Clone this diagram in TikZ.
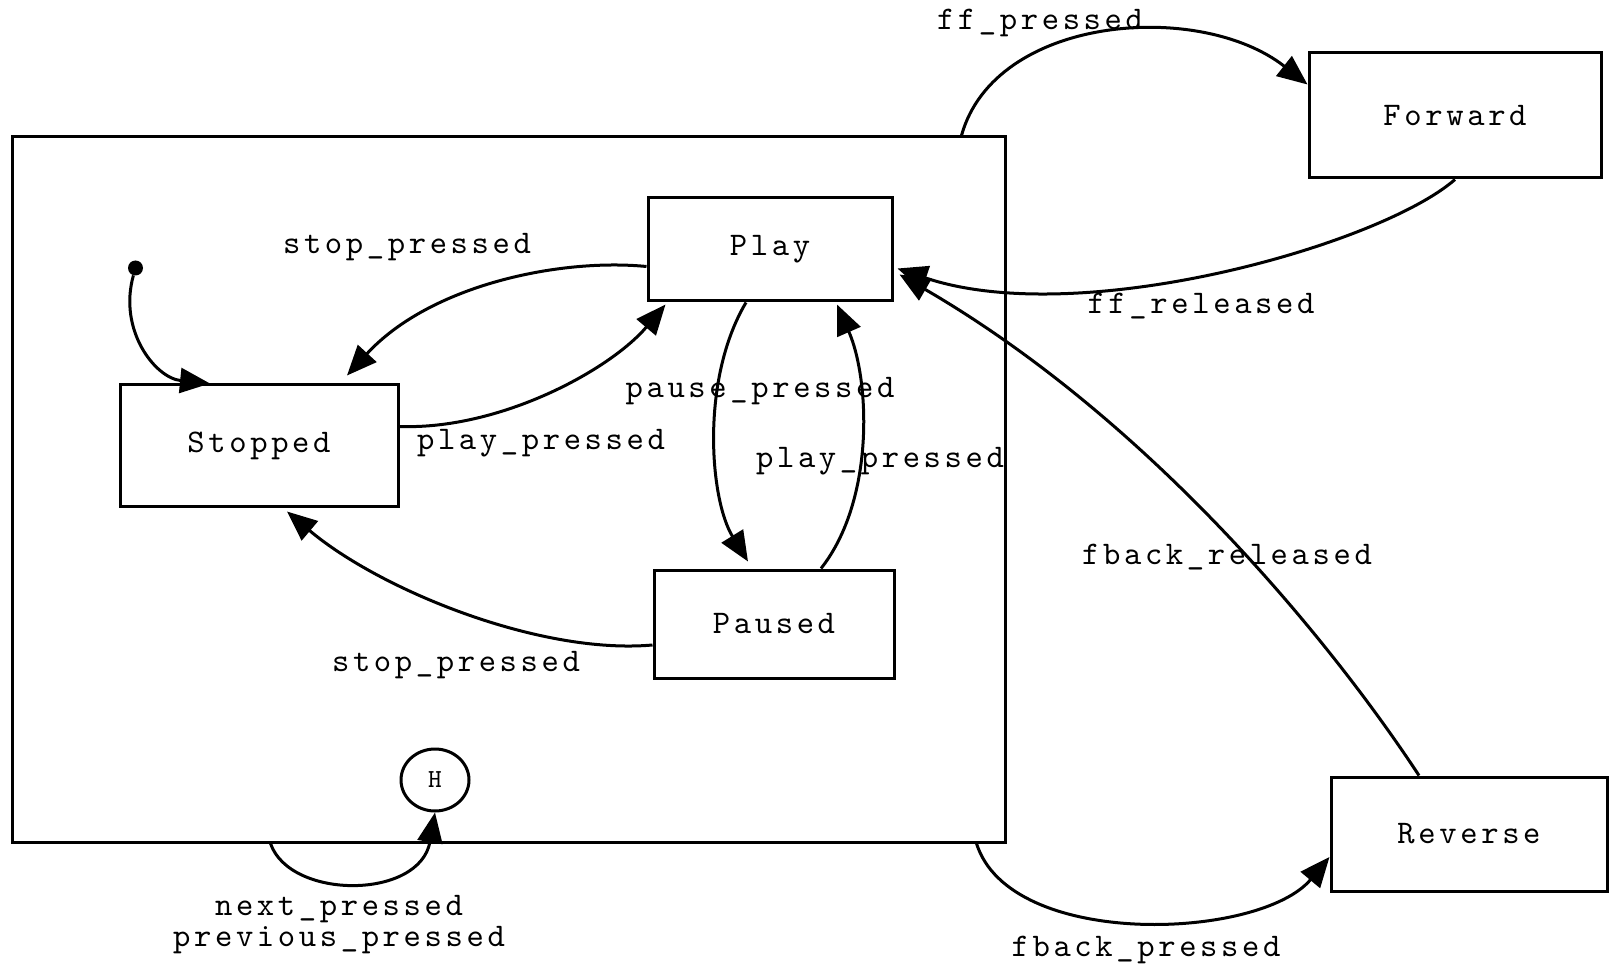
\documentclass[tikz,border=0pt]{standalone}
\usepackage{fontspec}
\newfontfamily\statefont[LetterSpace=11]{lmmono10-regular.otf}
\usetikzlibrary{calc,positioning,shapes,arrows.meta}

\begin{document}
\begin{tikzpicture}[x=1pt,y=-1pt,
  state/.style={draw,line width=3pt,inner sep=0pt,font=\statefont\fontsize{33}{36}\selectfont},
  lbl/.style={inner sep=0pt,font=\statefont\fontsize{33}{31}\selectfont,align=center},
  trans/.style={line width=3pt,-{Triangle[length=30pt,width=25pt]}}]
\useasboundingbox (0,0) rectangle (1610,968);
% composite state
\node [draw,line width=3pt,minimum width=993pt,minimum height=705pt] (player) at (508.5,489.5) {};
\node [state,minimum width=244pt,minimum height=103pt] (play) at (770,249.5) {Play};
\node [state,minimum width=278pt,minimum height=121pt] (stopped) at (259,445.5) {Stopped};
\node [state,minimum width=240pt,minimum height=108pt] (paused) at (774,624) {Paused};
\node [state,minimum width=292pt,minimum height=125pt] (forward) at (1455,115.5) {Forward};
\node [state,minimum width=276pt,minimum height=114pt] (reverse) at (1469,834) {Reverse};
\node [state,ellipse,minimum width=68pt,minimum height=62pt,font=\statefont\fontsize{26}{28}\selectfont] (hist) at (435,780) {H};
\node [circle,fill,inner sep=0pt,minimum size=15pt] (init) at (135.5,268) {};

% transitions
\draw [trans] (init) .. controls (118,330) and (155,378) .. ([xshift=-49pt]stopped.north);
\draw [trans] ([yshift=-17pt]play.west) .. controls (560,258) and (430,285) .. ([xshift=88pt,yshift=8pt]stopped.north);
\draw [trans] ([yshift=19pt]stopped.east) .. controls (500,430) and (610,370) .. ([xshift=19pt,yshift=-2pt]play.south west);
\draw [trans] ([xshift=-24pt]play.south) .. controls (700,380) and (710,500) .. ([xshift=-26pt,yshift=7pt]paused.north);
\draw [trans] ([xshift=47pt]paused.north) .. controls (875,500) and (870,380) .. ([xshift=67pt,yshift=-2pt]play.south);
\draw [trans] ([yshift=-21pt]paused.west) .. controls (540,655) and (380,590) .. ([xshift=28pt,yshift=-4pt]stopped.south);
\draw [trans] ([xshift=-45pt]player.north east) .. controls (995,15) and (1200,0) .. ([yshift=31pt]forward.west);
\draw [trans] (forward.south) .. controls (1380,245) and (1080,330) .. ([xshift=4pt,yshift=-19pt]play.east);
\draw [trans] ([xshift=-50pt]reverse.north) .. controls (1330,640) and (1150,420) .. ([xshift=6pt,yshift=-25pt]play.east);
\draw [trans] ([xshift=-30pt]player.south east) .. controls (1010,950) and (1260,940) .. ([yshift=-23pt]reverse.west);
\draw [trans] ([xshift=260pt]player.south west) .. controls (290,900) and (420,900) .. (hist.south);

% labels
\node [lbl] (l1) at (1040,23) {ff\_pressed};
\node [lbl] (l2) at (1201,306) {ff\_released};
\node [lbl] (l3) at (407,247) {stop\_pressed};
\node [lbl] (l4) at (541,443) {play\_pressed};
\node [lbl] (l5) at (760,391) {pause\_pressed};
\node [lbl] (l6) at (880,461) {play\_pressed};
\node [lbl] (l7) at (1227,557) {fback\_released};
\node [lbl] (l8) at (456,665) {stop\_pressed};
\node [lbl] (l9) at (339,924.5) {next\_pressed\\previous\_pressed};
\node [lbl] (l10) at (1146,950) {fback\_pressed};
\end{tikzpicture}
\end{document}
